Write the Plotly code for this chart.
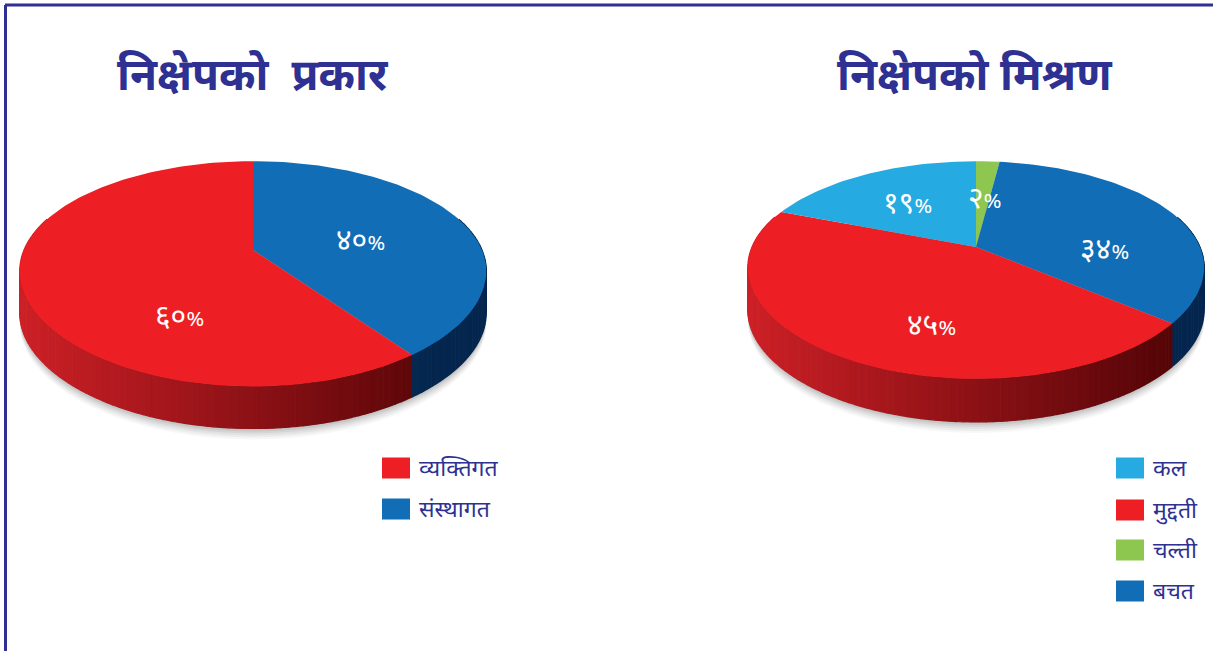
import math
import plotly.graph_objects as go

# ---- data ----
left_title = "निक्षेपको  प्रकार"
left_categories = ["संस्थागत", "व्यक्तिगत"]
left_values = [40, 60]
left_value_labels = ["४०", "६०"]

right_title = "निक्षेपको मिश्रण"
right_categories = ["चल्ती", "बचत", "मुद्दती", "कल"]
right_values = [2, 34, 45, 19]
right_value_labels = ["२", "३४", "४५", "१९"]

# ---- style ----
INK = "#2e3192"
COLORS = {
    "व्यक्तिगत": "#ed1f24", "संस्थागत": "#116db6",
    "कल": "#25aae1", "मुद्दती": "#ed1f24", "चल्ती": "#8dc74f", "बचत": "#116db6",
}
WALL = {"#ed1f24": ((205, 32, 38), (88, 5, 8)),
        "#116db6": ((14, 72, 130), (4, 38, 78))}
FONT = "Noto Sans Devanagari, Lohit Devanagari, Noto Sans, DejaVu Sans, sans-serif"
K = 0.19
BEVEL = 6


def project(p, theta):
    X, Y = math.sin(theta), -math.cos(theta)
    w = 1 - K * Y
    y = p["cy"] + p["B"] * Y / w
    if Y > 0:
        y += BEVEL * Y * Y
    return p["cx"] + p["C"] * X / w, y


def mix(a, b, t):
    return "rgb(%d,%d,%d)" % tuple(round(a[i] + (b[i] - a[i]) * t) for i in range(3))


def poly(fig, xs, ys, color, name, hover=True, lw=0):
    fig.add_trace(go.Scatter(
        x=xs, y=ys, mode="lines", fill="toself", fillcolor=color,
        line=dict(width=lw, color=color), showlegend=False, name=name,
        hoverinfo="name" if hover else "skip"))


def draw_pie(fig, p, cats, vals):
    total = sum(vals)
    spans, start = [], 0.0
    for c, v in zip(cats, vals):
        end = start + v / total * 2 * math.pi
        spans.append((c, start, end))
        start = end
    # soft shadow
    for grow, alpha in [(11, .05), (9, .06), (7, .07), (5, .09), (3, .11), (1, .13)]:
        pts = [project(p, math.radians(a)) for a in range(0, 361, 4)]
        poly(fig, [x for x, _ in pts],
             [y + p["depth"] + grow for _, y in pts],
             f"rgba(90,90,90,{alpha})", "shadow", False)
    # wall, cut into narrow strips so that it can carry a left-right gradient
    x_min, x_max = p["cx"] - p["rx"], p["cx"] + p["rx"]
    for c, a0, a1 in spans:
        lo, hi = max(a0, math.pi * .40), min(a1, math.pi * 1.60)
        if hi <= lo:
            continue
        n = max(2, int((hi - lo) / math.radians(1.5)))
        for i in range(n):
            t0, t1 = lo + (hi - lo) * i / n, lo + (hi - lo) * (i + 1) / n
            (x0, y0), (x1, y1) = project(p, t0), project(p, t1)
            t = min(1, max(0, ((x0 + x1) / 2 - x_min) / (x_max - x_min)))
            t = min(1, t * 1.12)
            a, b = WALL[COLORS[c]]
            poly(fig, [x0, x1, x1, x0], [y0, y1, y1 + p["depth"], y0 + p["depth"]],
                 mix(a, b, t), c, False, 1.2)
    # top face
    for c, a0, a1 in spans:
        n = max(3, int((a1 - a0) / math.radians(1.5)))
        pts = [project(p, a0 + (a1 - a0) * i / n) for i in range(n + 1)]
        poly(fig, [p["cx"]] + [x for x, _ in pts] + [p["cx"]],
             [p["cy"]] + [y for _, y in pts] + [p["cy"]], COLORS[c], c)


fig = go.Figure()
left_pie = dict(cx=253, cy=250, rx=233, C=229, B=105.7, depth=42)
right_pie = dict(cx=976, cy=247, rx=228.5, C=224, B=102, depth=43)
draw_pie(fig, left_pie, left_categories, left_values)
draw_pie(fig, right_pie, right_categories, right_values)

ann = []


def text(x, y, s, size, color, anchor="center", bold=False):
    ann.append(dict(x=x, y=y, text=f"<b>{s}</b>" if bold else s, showarrow=False,
                    xanchor=anchor, yanchor="middle",
                    font=dict(family=FONT, size=size, color=color)))


def pct(x, y, s):
    text(x, y, f'{s}<span style="font-size:22px">%</span>', 30, "white")


text(252.5, 78, left_title, 44, INK, bold=True)
text(975, 78, right_title, 44, INK, bold=True)

for s, (x, y) in zip(left_value_labels, [(360, 242), (179, 318)]):
    pct(x, y, s)
for s, (x, y) in zip(right_value_labels, [(985, 200), (1104, 251), (931, 327), (907, 205)]):
    pct(x, y, s)

shapes = [
    dict(type="line", x0=5, x1=1213, y0=5, y1=5, line=dict(color=INK, width=3)),
    dict(type="line", x0=5.5, x1=5.5, y0=5, y1=651, line=dict(color=INK, width=3)),
]


def legend_item(x, y, cat):
    shapes.append(dict(type="rect", x0=x, x1=x + 28, y0=y - 10.5, y1=y + 10.5,
                       fillcolor=COLORS[cat], line=dict(width=0)))
    text(x + 35, y + 2, cat, 23, INK, "left")


for cat, y in zip(["व्यक्तिगत", "संस्थागत"], [468, 509]):
    legend_item(382, y, cat)
for cat, y in zip(["कल", "मुद्दती", "चल्ती", "बचत"], [468, 510, 550, 591]):
    legend_item(1116, y, cat)

fig.update_layout(
    width=1213, height=651, margin=dict(l=0, r=0, t=0, b=0),
    paper_bgcolor="white", plot_bgcolor="white",
    xaxis=dict(range=[0, 1213], visible=False, fixedrange=True),
    yaxis=dict(range=[651, 0], visible=False, fixedrange=True),
    annotations=ann, shapes=shapes, showlegend=False,
)
fig.write_html("out.html", config={"displayModeBar": False},
               post_script="document.body.style.margin='0';document.body.style.overflow='hidden';")
